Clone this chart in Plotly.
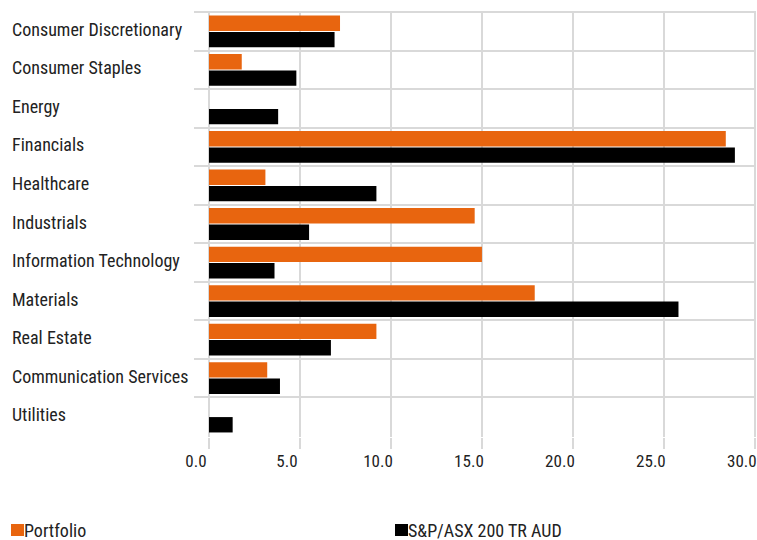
import plotly.graph_objects as go

categories = ["Consumer Discretionary", "Consumer Staples", "Energy", "Financials",
              "Healthcare", "Industrials", "Information Technology", "Materials",
              "Real Estate", "Communication Services", "Utilities"]
portfolio = [7.2, 1.8, 0.0, 28.4, 3.1, 14.6, 15.0, 17.9, 9.2, 3.2, 0.0]
benchmark = [6.9, 4.8, 3.8, 28.9, 9.2, 5.5, 3.6, 25.8, 6.7, 3.9, 1.3]
series_names = ["Portfolio", "S&P/ASX 200 TR AUD"]
series_colors = ["#E8650F", "#000000"]
x_ticks = [0, 5, 10, 15, 20, 25, 30]
x_tick_labels = ["0.0", "5.0", "10.0", "15.0", "20.0", "25.0", "30.0"]

GRID = "#D9D9D9"
FONT = "Roboto Condensed, Roboto, sans-serif"
TEXT = "#222222"

W, H = 757, 540
ML, MR, MT, MB = 209, 1, 11, 103
plot_w = W - ML - MR
plot_h = H - MT - MB


def px_x(p):
    return (p - ML) / plot_w


def px_y(p):
    return (H - MB - p) / plot_h


fig = go.Figure()
for vals, name, col in zip([portfolio, benchmark], series_names, series_colors):
    fig.add_trace(go.Bar(y=categories, x=vals, orientation="h", name=name,
                         marker=dict(color=col, line=dict(width=0)), showlegend=False))

annotations = []
for c in categories:
    annotations.append(dict(x=px_x(10), xref="paper", y=c, yref="y", yshift=2,
                            xanchor="left", yanchor="middle", text=c, showarrow=False,
                            font=dict(family=FONT, size=18, color=TEXT)))

# legend-like entries (colored square + label)
shapes = []
legend_starts = [11, 395]
for x0, name, col in zip(legend_starts, series_names, series_colors):
    shapes.append(dict(type="rect", xref="paper", yref="paper",
                       x0=px_x(x0), x1=px_x(x0 + 13), y0=px_y(536), y1=px_y(524),
                       fillcolor=col, line=dict(width=0)))
    annotations.append(dict(x=px_x(x0 + 10.5), xref="paper", y=px_y(530), yref="paper",
                            xanchor="left", yanchor="middle", showarrow=False,
                            text=name, font=dict(family=FONT, size=18, color=TEXT)))

fig.update_layout(
    width=W, height=H,
    margin=dict(l=ML, r=MR, t=MT, b=MB, pad=0),
    paper_bgcolor="white", plot_bgcolor="white",
    barmode="group", bargap=0.15, bargroupgap=0.06,
    showlegend=False,
    annotations=annotations,
    shapes=shapes,
    font=dict(family=FONT, size=18, color=TEXT),
)
fig.update_xaxes(range=[0, 30.06], tickvals=x_ticks, ticktext=x_tick_labels,
                 showgrid=True, gridcolor=GRID, gridwidth=2,
                 zeroline=True, zerolinecolor=GRID, zerolinewidth=2,
                 ticks="outside", ticklen=11, tickcolor=GRID, tickwidth=2,
                 ticklabelshift=-13, ticklabelstandoff=-2,
                 tickfont=dict(family=FONT, size=17, color=TEXT),
                 showline=False, fixedrange=True)
fig.update_yaxes(range=[10.53, -0.53], tickson="boundaries", showticklabels=False,
                 showgrid=True, gridcolor=GRID, gridwidth=2,
                 ticks="outside", ticklen=14, tickcolor=GRID, tickwidth=2,
                 showline=False, fixedrange=True)

fig.write_html("out.html", config={"displayModeBar": False},
               post_script="document.body.style.margin='0';document.body.style.padding='0';")
